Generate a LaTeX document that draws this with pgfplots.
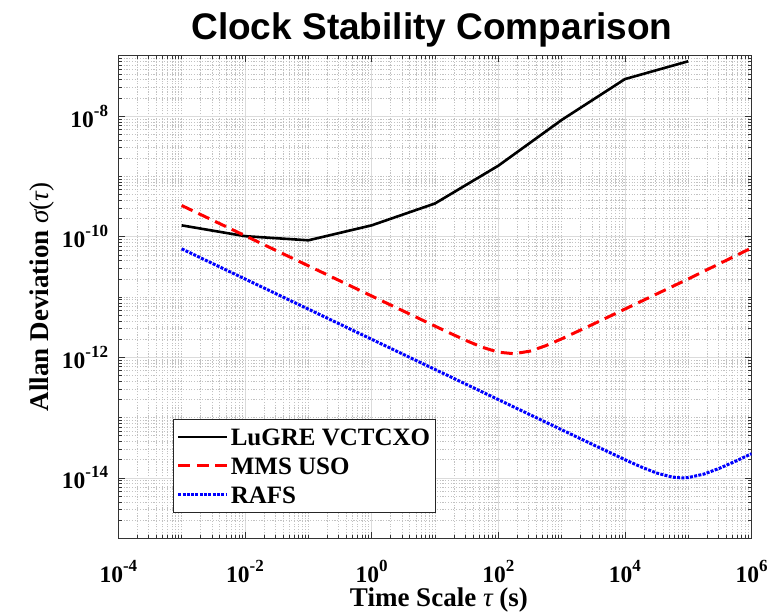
\documentclass[border=0pt]{standalone}
\usepackage{fontspec}
\setmainfont{Liberation Serif}
\newfontfamily\titlefont{Liberation Sans}
\usepackage{pgfplots}
\pgfplotsset{compat=1.18}
\newcommand\tl[1]{\fontsize{23.5bp}{24bp}\selectfont\bfseries 10\raisebox{11bp}{\fontsize{17bp}{17bp}\selectfont\bfseries #1}}
\begin{document}
\begin{tikzpicture}
\begin{axis}[
  name=ax,
  width=633bp, height=482.3bp, scale only axis,
  xmode=log, ymode=log,
  xmin=1e-4, xmax=1e6, ymin=1e-15, ymax=1e-7,
  xtick={1e-4,1e-2,1,1e2,1e4,1e6},
  xticklabels={\tl{-4},\tl{-2},\tl{0},\tl{2},\tl{4},\tl{6}},
  ytick={1e-14,1e-12,1e-10,1e-8},
  yticklabels={\tl{-14},\tl{-12},\tl{-10},\tl{-8}},
  minor xtick={2e-4,3e-4,4e-4,5e-4,6e-4,7e-4,8e-4,9e-4,1e-3,2e-3,3e-3,4e-3,5e-3,6e-3,7e-3,8e-3,9e-3,2e-2,3e-2,4e-2,5e-2,6e-2,7e-2,8e-2,9e-2,1e-1,2e-1,3e-1,4e-1,5e-1,6e-1,7e-1,8e-1,9e-1,2,3,4,5,6,7,8,9,10,20,30,40,50,60,70,80,90,200,300,400,500,600,700,800,900,1000,2000,3000,4000,5000,6000,7000,8000,9000,2e4,3e4,4e4,5e4,6e4,7e4,8e4,9e4,1e5,2e5,3e5,4e5,5e5,6e5,7e5,8e5,9e5},
  minor ytick={2e-15,3e-15,4e-15,5e-15,6e-15,7e-15,8e-15,9e-15,2e-14,3e-14,4e-14,5e-14,6e-14,7e-14,8e-14,9e-14,1e-13,2e-13,3e-13,4e-13,5e-13,6e-13,7e-13,8e-13,9e-13,2e-12,3e-12,4e-12,5e-12,6e-12,7e-12,8e-12,9e-12,1e-11,2e-11,3e-11,4e-11,5e-11,6e-11,7e-11,8e-11,9e-11,2e-10,3e-10,4e-10,5e-10,6e-10,7e-10,8e-10,9e-10,1e-9,2e-9,3e-9,4e-9,5e-9,6e-9,7e-9,8e-9,9e-9,2e-8,3e-8,4e-8,5e-8,6e-8,7e-8,8e-8,9e-8},
  grid=both,
  major grid style={line width=0.7bp, black!14},
  minor grid style={line width=0.6bp, black!24, dash pattern=on 1.2bp off 1.5bp},
  axis line style={line width=0.8bp, black!80},
  every tick/.style={line width=0.6bp, black!80},
  major tick length=6.3bp, minor tick length=3.2bp,
  xticklabel style={anchor=base, inner sep=0pt, yshift=-44bp},
  yticklabel style={anchor=base east, inner sep=0pt, xshift=-10bp, yshift=-11bp},
  xlabel={\fontsize{27bp}{27bp}\selectfont\bfseries Time Scale {\mdseries\itshape τ} (s)},
  ylabel={\fontsize{27bp}{27bp}\selectfont\bfseries Allan Deviation {\mdseries\itshape σ}{\mdseries(\itshape τ\upshape)}},
  xlabel style={at={(axis description cs:0.5,0)}, anchor=base, inner sep=0pt, yshift=-68.7bp, xshift=4bp},
  ylabel style={at={(axis description cs:-0.1106,0.5)}, anchor=base, inner sep=0pt},
  legend style={at={(0.0869,0.0525)}, anchor=south west, draw=black!85, line width=0.8bp,
    font=\fontsize{25bp}{25bp}\selectfont\bfseries, inner xsep=3bp, inner ysep=5bp, row sep=4bp,
    nodes={inner xsep=2bp, inner ysep=0bp, text height=21bp, text depth=4bp}},
  legend cell align=left,
  legend image code/.code={\draw[#1] (0bp,0bp) -- (49bp,0bp);},
]
\addplot[black, line width=2.6bp] coordinates {
(1e-3,1.54e-10) (1e-2,1.02e-10) (1e-1,8.7e-11) (1,1.54e-10) (10,3.55e-10) (100,1.5e-9) (1000,8.6e-9) (1e4,4.1e-8) (1e5,8.1e-8)};
\addlegendentry{LuGRE VCTCXO}
\addplot[red, line width=3bp, dash pattern=on 12bp off 6.5bp] coordinates {
(1e-3,3.29e-10) (3.162e-3,1.848e-10) (1e-2,1.039e-10) (3.162e-2,5.84e-11) (1e-1,3.29e-11) (3.162e-1,1.848e-11) (1,1.039e-11) (3.162,5.85e-12) (10,3.29e-12) (17.78,2.479e-12) (31.62,1.88e-12) (56.23,1.464e-12) (100,1.215e-12) (177.8,1.146e-12) (316.2,1.264e-12) (562.3,1.557e-12) (1000,2.02e-12) (3162,3.55e-12) (1e4,6.3e-12) (3.162e4,1.12e-11) (1e5,1.99e-11) (3.162e5,3.6e-11) (1e6,6.5e-11)};
\addlegendentry{MMS USO}
\addplot[blue, line width=3bp, dash pattern=on 3bp off 1.3bp] coordinates {
(1e-3,6.29e-11) (1e-2,1.99e-11) (1e-1,6.29e-12) (1,1.99e-12) (10,6.29e-13) (100,1.99e-13) (1000,6.293e-14) (3162,3.542e-14) (1e4,2.006e-14) (1.778e4,1.529e-14) (3.162e4,1.205e-14) (5.623e4,1.029e-14) (7.943e4,9.99e-15) (1e5,1.013e-14) (1.778e5,1.159e-14) (3.162e5,1.455e-14) (5.623e5,1.901e-14) (1e6,2.518e-14)};
\addlegendentry{RAFS}
\end{axis}
\node[anchor=base, font=\titlefont\bfseries\fontsize{37bp}{37bp}\selectfont] at ([xshift=-3bp,yshift=16.7bp]ax.north) {Clock Stability Comparison};
\pgfresetboundingbox
\path[use as bounding box] ([xshift=-118.3bp,yshift=-76bp]ax.south west) rectangle ([xshift=23.4bp,yshift=55.7bp]ax.north east);
\end{tikzpicture}
\end{document}
